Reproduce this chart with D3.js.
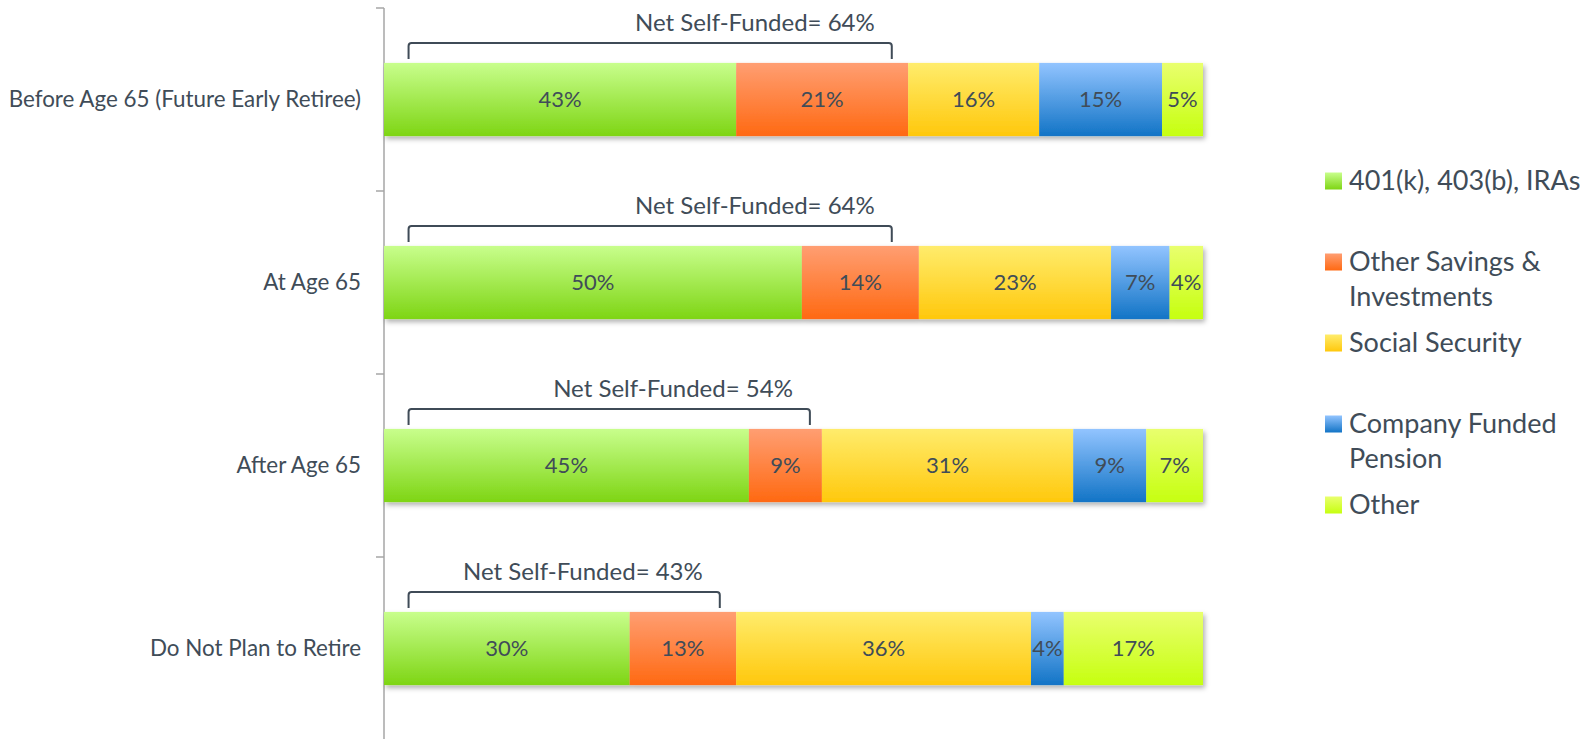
<!DOCTYPE html>
<html>
<head>
<meta charset="utf-8">
<script src="https://cdn.jsdelivr.net/npm/d3@7"></script>
<style>
  body { margin: 0; background: #fff; }
  svg { display: block; font-family: Lato, "Open Sans", sans-serif; }
</style>
</head>
<body>
<div id="chart"></div>
<script>
(function () {

var width = 1593, height = 739;

// data
var groups = ["Before Age 65 (Future Early Retiree)", "At Age 65", "After Age 65", "Do Not Plan to Retire"];
var series = ["401(k), 403(b), IRAs", "Other Savings & Investments", "Social Security", "Company Funded Pension", "Other"];
var legendLines = [["401(k), 403(b), IRAs"], ["Other Savings &", "Investments"], ["Social Security"], ["Company Funded", "Pension"], ["Other"]];
var retirement401k = [43, 50, 45, 30];
var otherSavings = [21, 14, 9, 13];
var socialSecurity = [16, 23, 31, 36];
var pension = [15, 7, 9, 4];
var other = [5, 4, 7, 17];
var netSelfFunded = [64, 64, 54, 43];

// gradient stops: top, bottom
var topColors = ["#c8fe8c", "#ff9e72", "#ffec6c", "#92c4ff", "#e9ff6e"];
var bottomColors = ["#7ed514", "#ff6912", "#ffc80c", "#1274c6", "#c6ff10"];
var textColor = "#404c58";

var rows = groups.map(function (g, i) {
  return {group: g, s0: retirement401k[i], s1: otherSavings[i], s2: socialSecurity[i], s3: pension[i], s4: other[i]};
});
var keys = ["s0", "s1", "s2", "s3", "s4"];
var stacked = d3.stack().keys(keys).offset(d3.stackOffsetExpand)(rows);

var xScale = d3.scaleLinear().domain([0, 1]).range([384, 1203]);
var yScale = d3.scaleBand().domain(groups).range([8, 740]).paddingInner(0.6).paddingOuter(0.3);
var tickScale = d3.scaleLinear().domain([0, groups.length]).range([8, 740]);

var svg = d3.select("#chart").append("svg")
    .attr("width", width)
    .attr("height", height);

var defs = svg.append("defs");
keys.forEach(function (k, i) {
  var g = defs.append("linearGradient")
      .attr("id", "grad" + i)
      .attr("x1", 0).attr("y1", 0).attr("x2", 0).attr("y2", 1);
  g.append("stop").attr("offset", "0%").attr("stop-color", topColors[i]);
  g.append("stop").attr("offset", "100%").attr("stop-color", bottomColors[i]);
});
var shadow = defs.append("filter").attr("id", "shadow")
    .attr("x", "-5%").attr("y", "-20%").attr("width", "110%").attr("height", "150%");
shadow.append("feDropShadow")
    .attr("dx", 2).attr("dy", 3).attr("stdDeviation", 2.5)
    .attr("flood-color", "#000").attr("flood-opacity", 0.3);

// axis line + ticks
svg.append("line")
    .attr("x1", 384).attr("x2", 384)
    .attr("y1", tickScale(0)).attr("y2", tickScale(groups.length))
    .attr("stroke", "#a6a6a6").attr("stroke-width", 1.5);
svg.selectAll(".tick")
    .data(d3.range(groups.length + 1))
  .enter().append("line")
    .attr("x1", 376).attr("x2", 384)
    .attr("y1", function (d) { return tickScale(d); })
    .attr("y2", function (d) { return tickScale(d); })
    .attr("stroke", "#a6a6a6").attr("stroke-width", 1.5);

// category labels
svg.selectAll(".cat")
    .data(groups)
  .enter().append("text")
    .attr("x", 361)
    .attr("y", function (d) { return yScale(d) + yScale.bandwidth() / 2; })
    .attr("dy", "0.35em")
    .attr("text-anchor", "end")
    .attr("fill", textColor)
    .style("font-size", "22.4px")
    .text(function (d) { return d; });

// bars (shadow group)
var barGroup = svg.append("g").attr("filter", "url(#shadow)");
var layer = barGroup.selectAll(".layer")
    .data(stacked)
  .enter().append("g")
    .attr("fill", function (d, i) { return "url(#grad" + i + ")"; });

layer.selectAll("rect")
    .data(function (d) { return d; })
  .enter().append("rect")
    .attr("x", function (d) { return xScale(d[0]); })
    .attr("y", function (d) { return yScale(d.data.group); })
    .attr("width", function (d) { return xScale(d[1]) - xScale(d[0]); })
    .attr("height", yScale.bandwidth());

// value labels
stacked.forEach(function (s) {
  svg.selectAll(".lbl-" + s.key)
      .data(s)
    .enter().append("text")
      .attr("x", function (d) { return (xScale(d[0]) + xScale(d[1])) / 2; })
      .attr("y", function (d) { return yScale(d.data.group) + yScale.bandwidth() / 2; })
      .attr("dy", "0.35em")
      .attr("text-anchor", "middle")
      .attr("fill", textColor)
      .style("font-size", "22px")
      .text(function (d) { return d.data[s.key] + "%"; });
});

// net self-funded brackets
groups.forEach(function (g, i) {
  var top = yScale(g) - 20, foot = yScale(g) - 4;
  var x0 = xScale(0.03), x1 = xScale((netSelfFunded[i] - 2) / 100);
  svg.append("path")
      .attr("d", "M" + x0 + "," + foot + "V" + (top + 3) + "Q" + x0 + "," + top + " " + (x0 + 3) + "," + top +
                 "H" + (x1 - 3) + "Q" + x1 + "," + top + " " + x1 + "," + (top + 3) + "V" + foot)
      .attr("fill", "none")
      .attr("stroke", "#3f4b57")
      .attr("stroke-width", 2);
  svg.append("text")
      .attr("x", x1 - 17)
      .attr("y", top - 20)
      .attr("dy", "0.35em")
      .attr("text-anchor", "end")
      .attr("fill", textColor)
      .style("font-size", "24px")
      .text("Net Self-Funded= " + netSelfFunded[i] + "%");
});

// legend
var legend = svg.selectAll(".legend")
    .data(series)
  .enter().append("g")
    .attr("transform", function (d, i) { return "translate(1325," + (181 + i * 81) + ")"; });
legend.append("rect")
    .attr("x", 0).attr("y", -8.5)
    .attr("width", 17).attr("height", 17)
    .attr("fill", function (d, i) { return "url(#grad" + i + ")"; });
legend.each(function (d, i) {
  var t = d3.select(this).append("text")
      .attr("x", 24)
      .attr("fill", textColor)
      .style("font-size", "27px");
  legendLines[i].forEach(function (line, j) {
    t.append("tspan")
        .attr("x", 24)
        .attr("y", j * 35)
        .attr("dy", "0.35em")
        .text(line);
  });
});

})();
</script>
</body>
</html>
